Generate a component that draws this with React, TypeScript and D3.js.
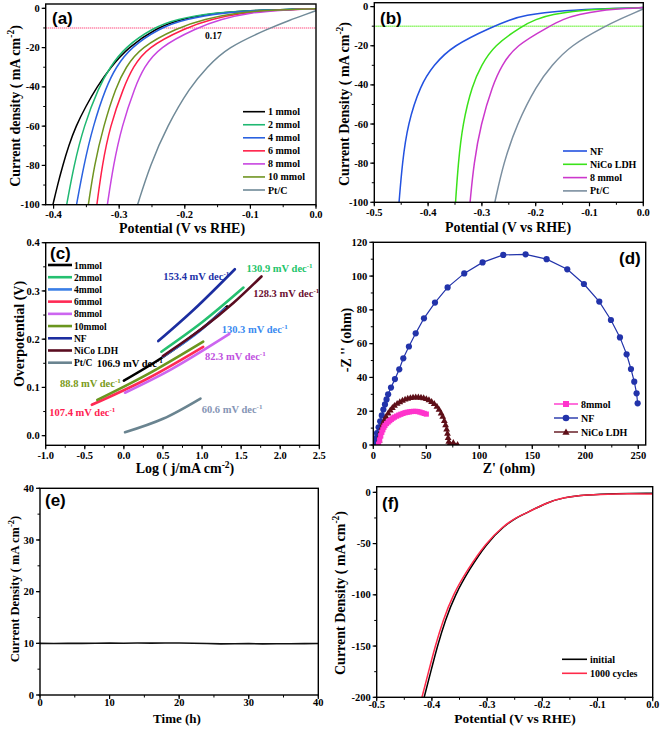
import React from 'react';
import * as d3 from 'd3';

type P = [number, number];

// ---------- Panel (a) LSV, various mmol ----------
const seriesA: { name: string; color: string; pts: P[] }[] = [
  { name: '1 mmol', color: '#000000', pts: [[-0.401,-100],[-0.394,-90],[-0.386,-80],[-0.377,-70],[-0.366,-60],[-0.351,-50],[-0.334,-40],[-0.313,-30],[-0.287,-20],[-0.243,-10],[-0.207,-5.5],[-0.15,-2.2],[-0.09,-0.9],[0,-0.2]] },
  { name: '2 mmol', color: '#1fb872', pts: [[-0.38,-100],[-0.369,-80],[-0.354,-60],[-0.331,-40],[-0.314,-30],[-0.292,-20],[-0.249,-10],[-0.213,-5.5],[-0.155,-2.2],[-0.09,-0.9],[0,-0.2]] },
  { name: '4 mmol', color: '#2a62e0', pts: [[-0.365,-100],[-0.354,-80],[-0.34,-60],[-0.32,-40],[-0.305,-30],[-0.283,-20],[-0.238,-10],[-0.2,-5.5],[-0.14,-2.2],[-0.08,-0.9],[0,-0.2]] },
  { name: '6 mmol', color: '#ff1f48', pts: [[-0.334,-100],[-0.326,-80],[-0.314,-60],[-0.293,-40],[-0.279,-30],[-0.258,-20],[-0.199,-10],[-0.16,-5.5],[-0.11,-2.2],[-0.06,-0.9],[0,-0.2]] },
  { name: '8 mmol', color: '#c845e0', pts: [[-0.318,-100],[-0.309,-80],[-0.296,-60],[-0.276,-40],[-0.262,-30],[-0.24,-20],[-0.182,-10],[-0.145,-5.5],[-0.1,-2.2],[-0.05,-0.8],[0,-0.2]] },
  { name: '10 mmol', color: '#6f9420', pts: [[-0.347,-100],[-0.338,-80],[-0.324,-60],[-0.305,-40],[-0.29,-30],[-0.268,-20],[-0.212,-10],[-0.17,-5.5],[-0.12,-2.2],[-0.07,-0.9],[0,-0.2]] },
  { name: 'Pt/C', color: '#708a98', pts: [[-0.272,-100],[-0.253,-80],[-0.227,-60],[-0.192,-40],[-0.166,-30],[-0.136,-20],[-0.07,-10],[-0.04,-6],[-0.015,-3],[0,-1.2]] },
];
const refJ = -10;
const annA: { text: string; at: P } = { text: '0.17', at: [-0.169, -15.5] };

// ---------- Panel (b) ----------
const seriesB: { name: string; color: string; pts: P[] }[] = [
  { name: 'NF', color: '#2352e0', pts: [[-0.454,-100],[-0.448,-80],[-0.438,-60],[-0.414,-40],[-0.39,-30],[-0.355,-20],[-0.278,-10],[-0.25,-7],[-0.223,-4.5],[-0.15,-1.8],[-0.05,-0.8],[0,-0.5]] },
  { name: 'NiCo LDH', color: '#3be21a', pts: [[-0.349,-100],[-0.344,-80],[-0.336,-60],[-0.318,-40],[-0.301,-30],[-0.278,-20],[-0.226,-10],[-0.2,-6.5],[-0.17,-4],[-0.12,-2],[-0.05,-0.9],[0,-0.5]] },
  { name: '8 mmol', color: '#cc38cc', pts: [[-0.322,-100],[-0.315,-80],[-0.302,-60],[-0.28,-40],[-0.263,-30],[-0.238,-20],[-0.174,-10],[-0.15,-6.5],[-0.12,-4],[-0.08,-2],[-0.03,-0.9],[0,-0.5]] },
  { name: 'Pt/C', color: '#7b8fa0', pts: [[-0.276,-100],[-0.26,-80],[-0.235,-60],[-0.198,-40],[-0.17,-30],[-0.136,-20],[-0.071,-10],[-0.04,-6],[-0.015,-3],[0,-1.2]] },
];

// ---------- Panel (c) Tafel ----------
const seriesC: { name: string; color: string; pts: P[] }[] = [
  { name: '1mmol', color: '#000000', pts: [[0,0.114],[0.5,0.163],[1.0,0.222],[1.32,0.268]] },
  { name: '2mmol', color: '#25c070', pts: [[0.48,0.174],[1.0,0.235],[1.53,0.307]] },
  { name: '4mmol', color: '#3a7ee6', pts: [[0.5,0.164],[0.9,0.208],[1.3,0.264]] },
  { name: '6mmol', color: '#ff2a55', pts: [[-0.41,0.064],[0.3,0.118],[1.015,0.184]] },
  { name: '8mmol', color: '#cc66f0', pts: [[0.014,0.089],[0.6,0.137],[1.35,0.211]] },
  { name: '10mmol', color: '#6a961e', pts: [[-0.34,0.074],[0.3,0.127],[1.015,0.195]] },
  { name: 'NF', color: '#1c2ea0', pts: [[0.44,0.196],[0.9,0.262],[1.42,0.345]] },
  { name: 'NiCo LDH', color: '#5a0c20', pts: [[0.5,0.165],[1.0,0.222],[1.4,0.275],[1.76,0.33]] },
  { name: 'Pt/C', color: '#6a8490', pts: [[0.015,0.007],[0.5,0.035],[0.98,0.077]] },
];
const slopesC: { text: string; color: string; at: P }[] = [
  { text: '153.4 mV dec', color: '#2232a8', at: [0.504, 0.323] },
  { text: '130.9 mV dec', color: '#22c46a', at: [1.57, 0.339] },
  { text: '128.3 mV dec', color: '#6b1030', at: [1.655, 0.287] },
  { text: '130.3 mV dec', color: '#3a8af0', at: [1.251, 0.212] },
  { text: '106.9 mV dec', color: '#000000', at: [-0.348, 0.143] },
  { text: '82.3 mV dec', color: '#c050e0', at: [1.037, 0.157] },
  { text: '88.8 mV dec', color: '#7a9a20', at: [-0.817, 0.101] },
  { text: '107.4 mV dec', color: '#ff2050', at: [-0.954, 0.040] },
  { text: '60.6 mV dec', color: '#8595b5', at: [0.995, 0.046] },
];

// ---------- Panel (d) EIS ----------
const eis8mmol: P[] = [[5,0.5],[6,3],[7,5.5],[8,7.5],[9,9],[10,10.5],[11,11.6],[12.5,12.7],[14,13.6],[15.5,14.4],[17,15.2],[18.5,15.9],[20,16.5],[22,17.1],[24,17.7],[26,18.2],[28,18.7],[30,19.1],[32,19.4],[34,19.6],[36,19.8],[38,19.9],[40,19.9],[42,19.8],[44,19.5],[46,19.1],[48,18.7],[50,18.3]];
const eisNF: P[] = [[1,1.5],[2,4],[3.5,7],[5,10.5],[6.5,14],[8,17.5],[9.5,21],[11,24],[12.5,27],[14,30],[16.7,34],[20.4,39],[24.5,44.8],[28.3,51.3],[33.6,58.3],[40,66.1],[47.8,75],[58.2,84.3],[70.1,93.3],[85.8,101.6],[103.1,108.1],[122.6,112.5],[143.7,112.9],[163.5,110],[183,104],[198.7,95.3],[213.2,84.9],[224.2,74],[232.7,63.7],[239,53.7],[243.1,45],[246.2,37.5],[248.4,30.6],[249.4,24.7]];
const eisNiCo: P[] = [[5,0.5],[5.6,3],[6.2,5.5],[7,8],[8,10.5],[9,12.8],[10.5,15],[12,17],[14,19],[16,20.8],[18,22.2],[20,23.5],[22.5,24.7],[25,25.7],[27.5,26.5],[30,27.2],[32.5,27.7],[35,28.1],[37.5,28.4],[40,28.5],[42.5,28.5],[45,28.3],[47.5,28],[50,27.5],[52.5,26.8],[55,25.8],[57.5,24.6],[60,23],[62,21.2],[64,19],[65.5,17],[67,14.5],[68.2,12],[69.2,9.5],[70,7],[70.6,4.5],[71.2,2.2],[72,0.8],[75.5,1.5],[79.5,0.3]];

// ---------- Panel (e) stability ----------
const timeE = [0,2,4,6,8,10,12,14,16,18,20,22,24,26,28,30,32,34,36,38,40];
const currentE = [10.0,9.98,10.02,10.0,10.01,10.03,10.02,10.05,10.04,10.06,10.05,10.02,9.96,9.9,9.92,9.94,9.9,9.93,9.92,9.95,9.96];

// ---------- Panel (f) cycling ----------
const initialF: P[] = [[-0.414,-200],[-0.402,-175],[-0.39,-150],[-0.376,-125],[-0.358,-100],[-0.332,-75],[-0.301,-50],[-0.27,-33],[-0.245,-24],[-0.228,-20],[-0.192,-10],[-0.162,-5],[-0.12,-2.4],[-0.07,-1.2],[0,-0.8]];
const cyclesF: P[] = [[-0.418,-200],[-0.406,-175],[-0.394,-150],[-0.38,-125],[-0.362,-100],[-0.335,-75],[-0.303,-50],[-0.271,-33],[-0.246,-24],[-0.228,-20],[-0.192,-10],[-0.162,-5],[-0.12,-2.3],[-0.07,-1.3],[0,-1.6]];

const SERIF = '"Liberation Serif", "Times New Roman", serif';
const SANS = '"Liberation Sans", Arial, sans-serif';

type Scale = d3.ScaleLinear<number, number>;

function range(a: number, b: number, s: number) {
  const out: number[] = [];
  for (let v = a; v <= b + s * 1e-6; v += s) out.push(Math.round(v / s) * s);
  return out;
}

function Axes({ xs, ys, xMajor, xMinor, yMajor, yMinor, xFmt, yFmt, fs = 10.5, xOff = 13.5 }: {
  xs: Scale; ys: Scale; xMajor: number[]; xMinor: number[]; yMajor: number[]; yMinor: number[];
  xFmt: (v: number) => string; yFmt: (v: number) => string; fs?: number; xOff?: number;
}) {
  const [x0, x1] = xs.range();
  const [y1, y0] = ys.range();
  return (
    <g>
      <rect x={x0} y={y0} width={x1 - x0} height={y1 - y0} fill="none" stroke="#000" strokeWidth={1.4} />
      {xMinor.map((t, i) => <line key={'xm' + i} x1={xs(t)} x2={xs(t)} y1={y1} y2={y1 + 2.5} stroke="#000" strokeWidth={1} />)}
      {yMinor.map((t, i) => <line key={'ym' + i} x1={x0} x2={x0 - 2.5} y1={ys(t)} y2={ys(t)} stroke="#000" strokeWidth={1} />)}
      {xMajor.map((t, i) => (
        <g key={'xM' + i}>
          <line x1={xs(t)} x2={xs(t)} y1={y1} y2={y1 + 4} stroke="#000" strokeWidth={1.2} />
          <text x={xs(t)} y={y1 + xOff} textAnchor="middle" fontFamily={SERIF} fontWeight="bold" fontSize={fs}>{xFmt(t)}</text>
        </g>
      ))}
      {yMajor.map((t, i) => (
        <g key={'yM' + i}>
          <line x1={x0} x2={x0 - 4} y1={ys(t)} y2={ys(t)} stroke="#000" strokeWidth={1.2} />
          <text x={x0 - 6} y={ys(t) + 3.6} textAnchor="end" fontFamily={SERIF} fontWeight="bold" fontSize={fs}>{yFmt(t)}</text>
        </g>
      ))}
    </g>
  );
}

const f1 = (v: number) => v.toFixed(1);
const f0 = (v: number) => v.toFixed(0);

function YTitle({ x, y, children, fs = 14 }: { x: number; y: number; children: React.ReactNode; fs?: number }) {
  return (
    <text transform={`translate(${x},${y}) rotate(-90)`} textAnchor="middle" fontFamily={SERIF} fontWeight="bold" fontSize={fs}>{children}</text>
  );
}
function XTitle({ x, y, children, fs = 14 }: { x: number; y: number; children: React.ReactNode; fs?: number }) {
  return <text x={x} y={y} textAnchor="middle" fontFamily={SERIF} fontWeight="bold" fontSize={fs}>{children}</text>;
}
function PLabel({ x, y, t }: { x: number; y: number; t: string }) {
  return <text x={x} y={y} fontFamily={SANS} fontWeight="bold" fontSize={17}>{t}</text>;
}
const CmSup = ({ fs = 14 }: { fs?: number }) => (
  <>
    <tspan>( mA cm</tspan>
    <tspan dy={-fs * 0.4} fontSize={fs * 0.68}>-2</tspan>
    <tspan dy={fs * 0.4}>)</tspan>
  </>
);

export default function App() {
  // scales
  const xA = d3.scaleLinear().domain([-0.412, 0]).range([45.7, 316]);
  const yA = d3.scaleLinear().domain([-100, 2.2]).range([204.7, 4]);
  const xB = d3.scaleLinear().domain([-0.5, 0]).range([374.3, 643.3]);
  const yB = d3.scaleLinear().domain([-100, 2]).range([202.3, 2.7]);
  const xC = d3.scaleLinear().domain([-1, 2.5]).range([45.7, 319.3]);
  const yC = d3.scaleLinear().domain([-0.02, 0.4]).range([445.3, 242.7]);
  const xD = d3.scaleLinear().domain([0, 257]).range([373.3, 645.7]);
  const yD = d3.scaleLinear().domain([0, 120]).range([445, 242.3]);
  const xE = d3.scaleLinear().domain([0, 40]).range([40, 318.3]);
  const yE = d3.scaleLinear().domain([0, 40]).range([695, 488.3]);
  const xF = d3.scaleLinear().domain([-0.5, 0]).range([376.7, 652.7]);
  const yF = d3.scaleLinear().domain([-200, 5.5]).range([697.3, 486.7]);

  const lineOf = (xs: Scale, ys: Scale, curve: d3.CurveFactory = d3.curveBasis) =>
    d3.line<P>().x(d => xs(d[0])).y(d => ys(d[1])).curve(curve);

  const lA = lineOf(xA, yA);
  const lB = lineOf(xB, yB);
  const lC = lineOf(xC, yC, d3.curveCatmullRom.alpha(0.5));
  const lD = lineOf(xD, yD, d3.curveLinear);
  const lF = lineOf(xF, yF);
  const lE = d3.line<number>().x((_, i) => xE(timeE[i])).y(d => yE(d)).curve(d3.curveLinear);

  const legA = d3.scaleLinear().domain([0, 6]).range([111.7, 190]);
  const legB = d3.scaleLinear().domain([0, 3]).range([151, 190.9]);
  const legC = d3.scaleLinear().domain([0, 8]).range([265, 362.7]);
  const legD = [404, 418, 432];
  const legF = [659.3, 673.3];

  const tri = (cx: number, cy: number, s = 3.4) => `M${cx},${cy - s}L${cx + s},${cy + s * 0.75}L${cx - s},${cy + s * 0.75}Z`;

  const clips: [string, Scale, Scale][] = [['A', xA, yA], ['B', xB, yB], ['C', xC, yC], ['D', xD, yD], ['E', xE, yE], ['F', xF, yF]];

  return (
    <svg width={662} height={730} style={{ position: 'absolute', left: 0, top: 0, background: '#fff' }}>
      <defs>
        {clips.map(([k, xs, ys]) => {
          const [x0, x1] = xs.range();
          const [y1, y0] = ys.range();
          return <clipPath id={'clip' + k} key={k}><rect x={x0} y={y0} width={x1 - x0} height={y1 - y0} /></clipPath>;
        })}
      </defs>
      <rect x={0} y={0} width={662} height={730} fill="#fff" />

      {/* ---------------- (a) ---------------- */}
      <g clipPath="url(#clipA)">
        <line x1={xA.range()[0]} x2={xA.range()[1]} y1={yA(refJ)} y2={yA(refJ)} stroke="#ff7aa0" strokeWidth={1.6} strokeDasharray="1.2 0.8" />
        {seriesA.map(s => <path key={s.name} d={lA(s.pts) || ''} fill="none" stroke={s.color} strokeWidth={1.5} />)}
      </g>
      <Axes xs={xA} ys={yA} xMajor={range(-0.4, 0, 0.1)} xMinor={range(-0.4, 0, 0.05)} yMajor={range(-100, 0, 20)} yMinor={range(-100, 0, 10)} xFmt={f1} yFmt={f0} />
      <text x={xA(annA.at[0])} y={yA(annA.at[1])} fontFamily={SERIF} fontWeight="bold" fontSize={9.5}>{annA.text}</text>
      {seriesA.map((s, i) => (
        <g key={'la' + i}>
          <line x1={243} x2={265} y1={legA(i)} y2={legA(i)} stroke={s.color} strokeWidth={1.6} />
          <text x={268} y={legA(i) + 3.5} fontFamily={SERIF} fontWeight="bold" fontSize={10}>{s.name}</text>
        </g>
      ))}
      <PLabel x={52} y={24} t="(a)" />
      <YTitle x={19.5} y={106}>Current density <CmSup /></YTitle>
      <XTitle x={182} y={233}>Potential (V vs RHE)</XTitle>

      {/* ---------------- (b) ---------------- */}
      <g clipPath="url(#clipB)">
        <line x1={xB.range()[0]} x2={xB.range()[1]} y1={yB(refJ)} y2={yB(refJ)} stroke="#6cf23a" strokeWidth={1.6} strokeDasharray="1.2 0.8" />
        {seriesB.map(s => <path key={s.name} d={lB(s.pts) || ''} fill="none" stroke={s.color} strokeWidth={1.5} />)}
      </g>
      <Axes xs={xB} ys={yB} xMajor={range(-0.5, 0, 0.1)} xMinor={range(-0.5, 0, 0.05)} yMajor={range(-100, 0, 20)} yMinor={range(-100, 0, 10)} xFmt={f1} yFmt={f0} />
      {seriesB.map((s, i) => (
        <g key={'lb' + i}>
          <line x1={563} x2={587} y1={legB(i)} y2={legB(i)} stroke={s.color} strokeWidth={1.6} />
          <text x={590} y={legB(i) + 3.5} fontFamily={SERIF} fontWeight="bold" fontSize={10}>{s.name}</text>
        </g>
      ))}
      <PLabel x={380} y={24} t="(b)" />
      <YTitle x={349} y={104}>Current Density <CmSup /></YTitle>
      <XTitle x={508} y={232}>Potential (V vs RHE)</XTitle>

      {/* ---------------- (c) ---------------- */}
      {slopesC.map((s, i) => (
        <text key={'sc' + i} x={xC(s.at[0])} y={yC(s.at[1])} fill={s.color} fontFamily={SERIF} fontWeight="bold" fontSize={10.5}>
          {s.text}<tspan dy={-4} fontSize={7}>-1</tspan>
        </text>
      ))}
      <g clipPath="url(#clipC)">
        {seriesC.map(s => <path key={s.name} d={lC(s.pts) || ''} fill="none" stroke={s.color} strokeWidth={2.6} strokeLinecap="round" />)}
      </g>
      <Axes xs={xC} ys={yC} xMajor={range(-1, 2.5, 0.5)} xMinor={range(-1, 2.5, 0.25)} yMajor={range(0, 0.4, 0.1)} yMinor={range(0, 0.4, 0.05)} xFmt={f1} yFmt={f1} />
      {seriesC.map((s, i) => (
        <g key={'lc' + i}>
          <line x1={48} x2={72} y1={legC(i)} y2={legC(i)} stroke={s.color} strokeWidth={2.6} />
          <text x={74} y={legC(i) + 3.5} fontFamily={SERIF} fontWeight="bold" fontSize={9.5}>{s.name}</text>
        </g>
      ))}
      <PLabel x={50} y={259} t="(c)" />
      <YTitle x={24} y={334}>Overpotential (V)</YTitle>
      <XTitle x={185} y={473}>Log ( j/mA cm<tspan dy={-5} fontSize={9.5}>-2</tspan><tspan dy={5}>)</tspan></XTitle>

      {/* ---------------- (d) ---------------- */}
      <g clipPath="url(#clipD)">
        <path d={lD(eisNF) || ''} fill="none" stroke="#2233aa" strokeWidth={1.2} />
        {eisNF.map((p, i) => <circle key={'nf' + i} cx={xD(p[0])} cy={yD(p[1])} r={3.1} fill="#2233aa" />)}
        <path d={lD(eisNiCo) || ''} fill="none" stroke="#5e0f18" strokeWidth={1.2} />
        {eisNiCo.map((p, i) => <path key={'nc' + i} d={tri(xD(p[0]), yD(p[1]))} fill="#5e0f18" />)}
        <path d={lD(eis8mmol) || ''} fill="none" stroke="#ff33cc" strokeWidth={1.2} />
        {eis8mmol.map((p, i) => <rect key={'e8' + i} x={xD(p[0]) - 2.6} y={yD(p[1]) - 2.6} width={5.2} height={5.2} fill="#ff33cc" />)}
      </g>
      <Axes xs={xD} ys={yD} xMajor={range(0, 250, 50)} xMinor={range(0, 250, 25)} yMajor={range(0, 120, 20)} yMinor={range(0, 120, 10)} xFmt={f0} yFmt={f0} />
      {[
        { name: '8mmol', color: '#ff33cc', m: 'sq' },
        { name: 'NF', color: '#2233aa', m: 'ci' },
        { name: 'NiCo LDH', color: '#5e0f18', m: 'tr' },
      ].map((s, i) => (
        <g key={'ld' + i}>
          <line x1={554} x2={578} y1={legD[i]} y2={legD[i]} stroke={s.color} strokeWidth={1.4} />
          {s.m === 'sq' && <rect x={566 - 3} y={legD[i] - 3} width={6} height={6} fill={s.color} />}
          {s.m === 'ci' && <circle cx={566} cy={legD[i]} r={3.3} fill={s.color} />}
          {s.m === 'tr' && <path d={tri(566, legD[i], 3.6)} fill={s.color} />}
          <text x={581} y={legD[i] + 3.5} fontFamily={SERIF} fontWeight="bold" fontSize={10}>{s.name}</text>
        </g>
      ))}
      <PLabel x={619} y={264} t="(d)" />
      <YTitle x={351} y={340}>-Z '' (ohm)</YTitle>
      <XTitle x={509} y={473}>Z' (ohm)</XTitle>

      {/* ---------------- (e) ---------------- */}
      <g clipPath="url(#clipE)">
        <path d={lE(currentE) || ''} fill="none" stroke="#111" strokeWidth={1.6} />
      </g>
      <Axes xs={xE} ys={yE} xMajor={range(0, 40, 10)} xMinor={range(0, 40, 5)} yMajor={range(0, 40, 10)} yMinor={range(0, 40, 5)} xFmt={f0} yFmt={f0} xOff={11} />
      <PLabel x={45} y={506} t="(e)" />
      <YTitle x={19} y={589} fs={12.5}>Current Density <CmSup fs={12.5} /></YTitle>
      <XTitle x={177} y={723} fs={13}>Time (h)</XTitle>

      {/* ---------------- (f) ---------------- */}
      <g clipPath="url(#clipF)">
        <path d={lF(initialF) || ''} fill="none" stroke="#000" strokeWidth={1.5} />
        <path d={lF(cyclesF) || ''} fill="none" stroke="#ff2a4a" strokeWidth={1.5} />
      </g>
      <Axes xs={xF} ys={yF} xMajor={range(-0.5, 0, 0.1)} xMinor={range(-0.5, 0, 0.05)} yMajor={range(-200, 0, 50)} yMinor={range(-200, 0, 25)} xFmt={f1} yFmt={f0} xOff={10.5} />
      {[{ name: 'initial', color: '#000' }, { name: '1000 cycles', color: '#ff2a4a' }].map((s, i) => (
        <g key={'lf' + i}>
          <line x1={562} x2={587} y1={legF[i]} y2={legF[i]} stroke={s.color} strokeWidth={1.6} />
          <text x={590} y={legF[i] + 3.5} fontFamily={SERIF} fontWeight="bold" fontSize={10}>{s.name}</text>
        </g>
      ))}
      <PLabel x={382} y={509} t="(f)" />
      <YTitle x={345} y={593}>Current Density <CmSup /></YTitle>
      <XTitle x={515} y={723} fs={13.5}>Potential (V vs RHE)</XTitle>
    </svg>
  );
}
